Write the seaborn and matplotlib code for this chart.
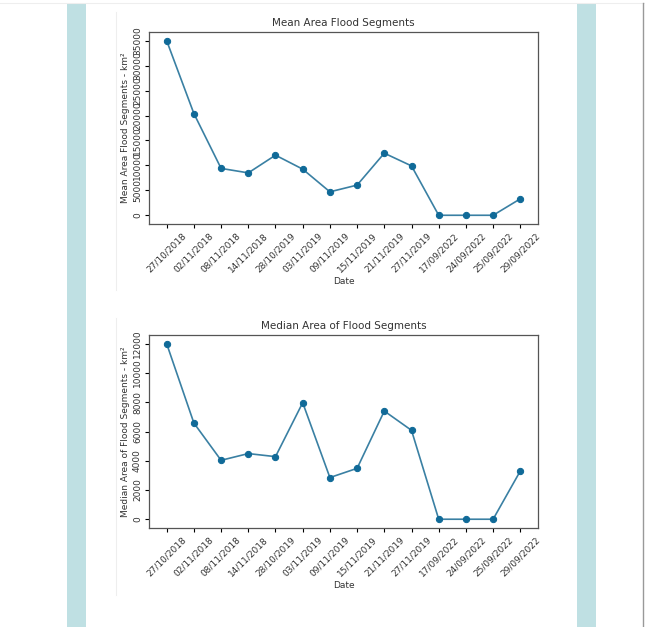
import numpy as np
import pandas as pd
import matplotlib
matplotlib.use('Agg')
import matplotlib.pyplot as plt
from matplotlib.patches import Rectangle
from matplotlib.lines import Line2D
import seaborn as sns

dates = ['27/10/2018', '02/11/2018', '08/11/2018', '14/11/2018', '28/10/2019',
         '03/11/2019', '09/11/2019', '15/11/2019', '21/11/2019', '27/11/2019',
         '17/09/2022', '24/09/2022', '25/09/2022', '29/09/2022']
mean_area = [35000, 20400, 9400, 8500, 12050, 9250, 4700, 6050, 12450, 9900,
             0, 0, 0, 3300]
median_area = [12000, 6580, 4030, 4490, 4280, 7970, 2850, 3480, 7400, 6080,
               0, 0, 0, 3300]

df = pd.DataFrame({'Date': dates, 'Mean': mean_area, 'Median': median_area})

plt.rcParams['font.family'] = 'DejaVu Sans'
fig = plt.figure(figsize=(6.45, 6.27), dpi=100)

# page background: teal side bars and faint frame lines
fig.patches.append(Rectangle((67 / 645, 0), 19 / 645, 1 - 4 / 627, transform=fig.transFigure,
                             facecolor='#bfe0e3', edgecolor='none', zorder=0))
fig.patches.append(Rectangle((577 / 645, 0), 19 / 645, 1 - 4 / 627, transform=fig.transFigure,
                             facecolor='#bfe0e3', edgecolor='none', zorder=0))
fig.lines.append(Line2D([0, 1], [1 - 3 / 627, 1 - 3 / 627], transform=fig.transFigure,
                        color='#eeeeee', lw=0.8))
fig.lines.append(Line2D([643 / 645, 643 / 645], [0, 1 - 3 / 627], transform=fig.transFigure,
                        color='#999999', lw=1.0))
fig.lines.append(Line2D([116 / 645, 116 / 645], [1 - 290 / 627, 1 - 12 / 627],
                        transform=fig.transFigure, color='#eeeeee', lw=0.8))
fig.lines.append(Line2D([116 / 645, 116 / 645], [1 - 595 / 627, 1 - 318 / 627],
                        transform=fig.transFigure, color='#eeeeee', lw=0.8))

ax1 = fig.add_axes([149 / 645, 1 - 224 / 627, 389 / 645, 192 / 627])
ax2 = fig.add_axes([149 / 645, 1 - 528 / 627, 389 / 645, 193 / 627])

panels = [(ax1, 'Mean', 'Mean Area Flood Segments', 'Mean Area Flood Segments - km²', 5000),
          (ax2, 'Median', 'Median Area of Flood Segments', 'Median Area of Flood Segments - km²', 2000)]

for ax, col, title, ylab, step in panels:
    sns.lineplot(data=df, x='Date', y=col, ax=ax, color='#3a80a3', lw=1.2,
                 marker='o', markersize=4.5, markerfacecolor='#106a98',
                 markeredgecolor='#106a98', sort=False)
    ax.set_title(title, fontsize=7.5, color='#333333', pad=4)
    ax.set_ylabel(ylab, fontsize=6.5, color='#333333', labelpad=2)
    ax.set_xlabel('Date', fontsize=6.5, color='#333333', labelpad=2)
    ymax = max(df[col])
    ax.set_yticks(np.arange(0, ymax + 1, step))
    ax.tick_params(axis='y', labelrotation=90, labelsize=6.5, labelcolor='#333333',
                   length=3, pad=2)
    ax.tick_params(axis='x', labelrotation=45, labelsize=6.5, labelcolor='#333333',
                   length=3, pad=2)
    for lab in ax.get_yticklabels():
        lab.set_va('center')
    for sp in ax.spines.values():
        sp.set_color('#555555')
        sp.set_linewidth(0.9)

fig.savefig('out.png', dpi=100, facecolor='white')
